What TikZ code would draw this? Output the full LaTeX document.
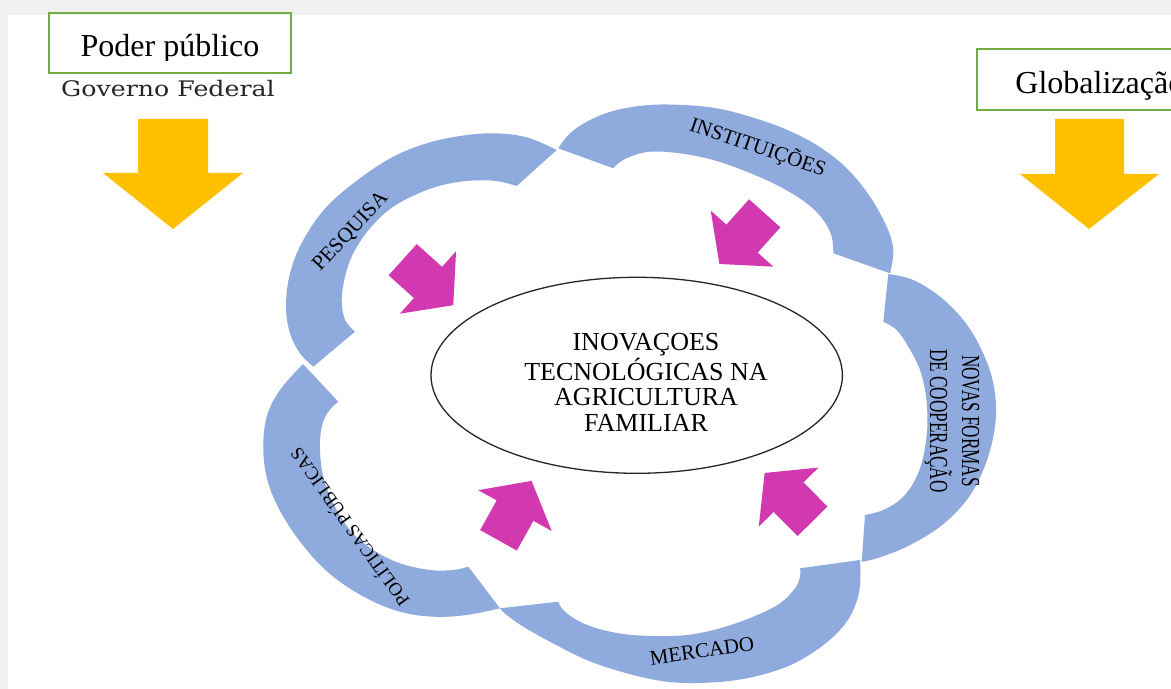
\documentclass[tikz,border=0pt]{standalone}
\usepackage{fontspec}
\setmainfont{Liberation Serif}
\newfontfamily\govfont{DejaVu Serif}
\usetikzlibrary{shapes.geometric}
\definecolor{bandblue}{RGB}{143,170,220}
\definecolor{pinkarr}{RGB}{210,56,176}
\definecolor{goldarr}{RGB}{255,192,0}
\definecolor{boxgreen}{RGB}{112,173,71}
\definecolor{bggray}{RGB}{240,240,240}
\tikzset{
  band/.style={fill=bandblue},
  goldshape/.style={fill=goldarr},
  pinkshape/.style={fill=pinkarr},
  greenbox/.style={draw=boxgreen, line width=1pt, inner sep=0pt},
  boxtext/.style={font=\fontsize{16}{18}\selectfont, inner sep=0pt},
  lbl/.style={font=\fontsize{10.5}{12}\selectfont, inner sep=0pt},
}
\newcommand{\pinkarrow}[3]{%
  \fill[pinkshape, shift={(#1,#2)}, rotate=#3] (0,-21) -- (34,-21) -- (34,-42) -- (68,0) -- (34,42) -- (34,21) -- (0,21) -- cycle;}
\begin{document}
\begin{tikzpicture}[x=0.5pt,y=-0.5pt]
\useasboundingbox (0,0) rectangle (1171,689);
\clip (0,0) rectangle (1171,689);
\fill[bggray] (0,0) rectangle (1171,689);
\fill[white] (8,15) rectangle (1171,689);

% yellow arrows
\fill[goldshape] (138,119) -- (208,119) -- (208,173) -- (243,173) -- (173,229) -- (103,173) -- (138,173) -- cycle;
\fill[goldshape] (1055,119) -- (1124,119) -- (1124,174) -- (1159,174) -- (1089,229) -- (1020,174) -- (1055,174) -- cycle;

% boxes
\node[greenbox, minimum width=121pt, minimum height=30pt] (poderbox) at (170,43) {};
\begin{scope}
\clip (49,13) rectangle (291,61);
\node[boxtext, anchor=base] (poder) at (170,56.7) {Poder público};
\end{scope}
\node[greenbox, minimum width=126.5pt, minimum height=30.5pt] (globbox) at (1103.5,79.5) {};
\node[boxtext, anchor=base west] (glob) at (1015,93.3) {Globalização};
\node[anchor=base, inner sep=0pt, font=\govfont\fontsize{10.7}{12}\selectfont, text=black!85] (gov) at (168,96.7) {\scalebox{1.18}[1]{Governo Federal}};

% PESQUISA band
\fill[band] plot[smooth,tension=.6] coordinates {(556.7,150) (526.7,137.3) (493.3,133.3) (460,136) (426.7,143.3) (393.3,156.7) (360,178.3) (326.7,206.7) (303.3,240) (290,273.3) (286,306.7) (290,333.3) (300,353.3) (313.3,366.7)}
 -- plot[smooth,tension=.6] coordinates {(355,331.7) (345,320) (341.7,300) (345,276.7) (353.3,253.3) (370,228.3) (393.3,206.7) (426.7,190) (460,181.7) (493.3,180.7) (516.7,186)} -- cycle;
% INSTITUICOES band
\fill[band] plot[smooth,tension=.6] coordinates {(558.3,148.3) (570,133.3) (590,120) (616.7,110) (650,105) (683.3,105) (716.7,108.3) (750,116.7) (783.3,128.3) (816.7,145) (846.7,168.3) (870,196.7) (886.7,226.7) (893.3,250) (890,273.3)}
 -- plot[smooth,tension=.6] coordinates {(833.3,253.3) (831.7,236.7) (823.3,220) (806.7,203.3) (780,186.7) (746.7,171.7) (713.3,160) (680,153.3) (650,151.7) (630,156.7) (618.3,163.3) (613.3,168.3)} -- cycle;
% NOVAS FORMAS band
\fill[band] plot[smooth,tension=.6] coordinates {(888.3,274) (913.3,280) (940,296.7) (963.3,320) (980,346.7) (991.7,376.7) (996,406.7) (993.3,436.7) (983.3,470) (966.7,500) (940,526.7) (906.7,546.7) (876.7,558.3) (861.7,561.7)}
 -- plot[smooth,tension=.6] coordinates {(865,515) (883.3,510) (901.7,498.3) (915,480) (923.3,456.7) (927.3,426.7) (926,396.7) (920,370) (908.3,346.7) (896.7,330) (883.3,321.7)} -- cycle;
% MERCADO band
\fill[band] plot[smooth,tension=.6] coordinates {(860,560) (860,586.7) (853.3,610) (840,630) (816.7,650) (786.7,666.7) (746.7,678.3) (706.7,682.7) (666.7,681.7) (626.7,673.3) (586.7,660) (550,641.7) (523.3,626.7) (506.7,615) (500,608.3)}
 -- plot[smooth,tension=.6] coordinates {(558.3,601.7) (563.3,610) (576.7,620) (596.7,628.3) (623.3,634) (653.3,636) (686.7,635) (720,628.3) (753.3,616.7) (780,603.3) (795,588.3) (800,576.7) (800,568.3)} -- cycle;
% POLITICAS band
\fill[band] plot[smooth,tension=.6] coordinates {(500,608.3) (466.7,615) (433.3,616.7) (400,611.7) (366.7,598.3) (333.3,576.7) (306.7,550) (283.3,516.7) (268.3,483.3) (263.3,450) (266.7,416.7) (280,390) (303,364)}
 -- plot[smooth,tension=.6] coordinates {(338.3,401.7) (328.3,411.7) (321.7,426.7) (320,450) (323.3,476.7) (333.3,503.3) (350,530) (373.3,550) (400,563.3) (430,570) (453.3,570) (468.3,566.7)} -- cycle;

% band labels
\node[lbl, rotate=47] (pesq) at (350.7,231.7) {PESQUISA};
\node[lbl, rotate=-19] (inst) at (758,147) {INSTITUIÇÕES};
\node[lbl, rotate=-90, align=center, font=\fontsize{13}{16}\selectfont] (novas) at (952,421) {\scalebox{0.66}[1]{NOVAS FORMAS}\\\scalebox{0.66}[1]{DE COOPERAÇÃO}};
\node[lbl, rotate=8] (merc) at (702,651) {MERCADO};
\node[lbl, rotate=125.7, font=\fontsize{9.3}{11}\selectfont] (polit) at (348.6,527.9) {POLÍTICAS PÚBLICAS};

% pink arrows
\pinkarrow{402.7}{259.7}{-42}
\pinkarrow{764.7}{213.3}{-131.8}
\pinkarrow{812.5}{521.3}{134.7}
\pinkarrow{498.5}{540.3}{60.9}

% central ellipse
\node[draw=black!85, line width=0.65pt, ellipse, minimum width=205.7pt, minimum height=98pt, inner sep=0pt] (core) at (636.7,375.3) {};
\node[align=center, inner sep=0pt, font=\fontsize{13}{12.75}\selectfont] (coretext) at (646,382) {INOVAÇOES\\TECNOLÓGICAS NA\\AGRICULTURA\\FAMILIAR};
\end{tikzpicture}
\end{document}
